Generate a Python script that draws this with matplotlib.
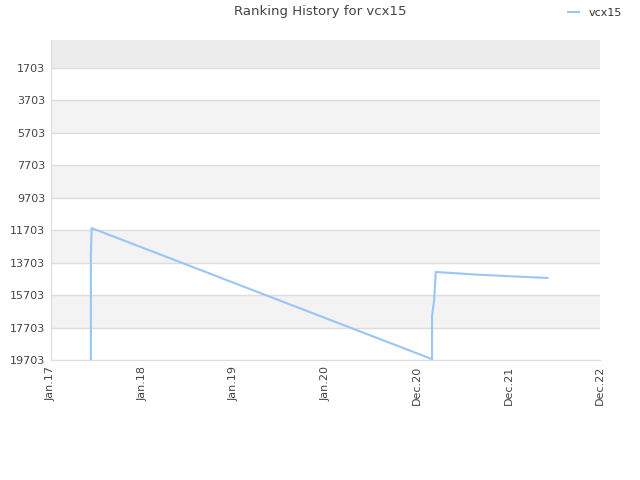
import matplotlib
matplotlib.use("Agg")
import matplotlib.pyplot as plt
import datetime as dt

# Data
dates = ["2017-06-09", "2017-06-09", "2017-06-12", "2021-03-01", "2021-03-01",
         "2021-03-05", "2021-03-09", "2021-03-16", "2021-05-01", "2021-09-01",
         "2022-01-01", "2022-06-04"]
ranks = [19703, 13400, 11580, 19650, 17000, 16500, 16100, 14280, 14330, 14450,
         14540, 14650]
tick_dates = ["2017-01-01", "2018-01-01", "2019-01-01", "2020-01-01",
              "2020-12-31", "2021-12-31", "2022-12-31"]
tick_labels = ["Jan.17", "Jan.18", "Jan.19", "Jan.20", "Dec.20", "Dec.21", "Dec.22"]
y_ticks = [1703, 3703, 5703, 7703, 9703, 11703, 13703, 15703, 17703, 19703]
series_name = "vcx15"

x = [dt.datetime.strptime(d, "%Y-%m-%d") for d in dates]
xt = [dt.datetime.strptime(d, "%Y-%m-%d") for d in tick_dates]

fig = plt.figure(figsize=(6.4, 4.8), dpi=100)
ax = fig.add_axes([51/640, 1-360/480, 549/640, 320/480])

ymin, ymax = 0, 19703
bounds = [0] + y_ticks
for i in range(len(bounds) - 1):
    if i == 0:
        ax.axhspan(bounds[i], bounds[i+1], color="#ececec", lw=0, zorder=0)
    elif i % 2 == 0:
        ax.axhspan(bounds[i], bounds[i+1], color="#f3f3f3", lw=0, zorder=0)
for yv in y_ticks:
    ax.axhline(yv, color="#dddddd", lw=1, zorder=1)

ax.plot(x, ranks, color="#99c6f3", lw=1.5, zorder=3, label=series_name)

ax.set_xlim(xt[0], xt[-1])
ax.set_ylim(ymax, ymin)
ax.set_yticks(y_ticks)
ax.set_yticklabels([str(v) for v in y_ticks])
ax.set_xticks(xt)
ax.set_xticklabels(tick_labels, rotation=90)
ax.tick_params(axis="both", labelsize=8, colors="#444444", length=0, pad=4)
for s in ["top", "right"]:
    ax.spines[s].set_visible(False)
for s in ["left", "bottom"]:
    ax.spines[s].set_color("#dddddd")

fig.text(0.5, 1-12/480, "Ranking History for vcx15", ha="center", va="center",
         fontsize=9.5, color="#444444")
leg = fig.legend(loc="center", bbox_to_anchor=(595/640, 1-13/480), frameon=False,
                 fontsize=8, handlelength=1.0, handletextpad=0.8)
for t in leg.get_texts():
    t.set_color("#333333")

fig.savefig("out.png", dpi=100)
